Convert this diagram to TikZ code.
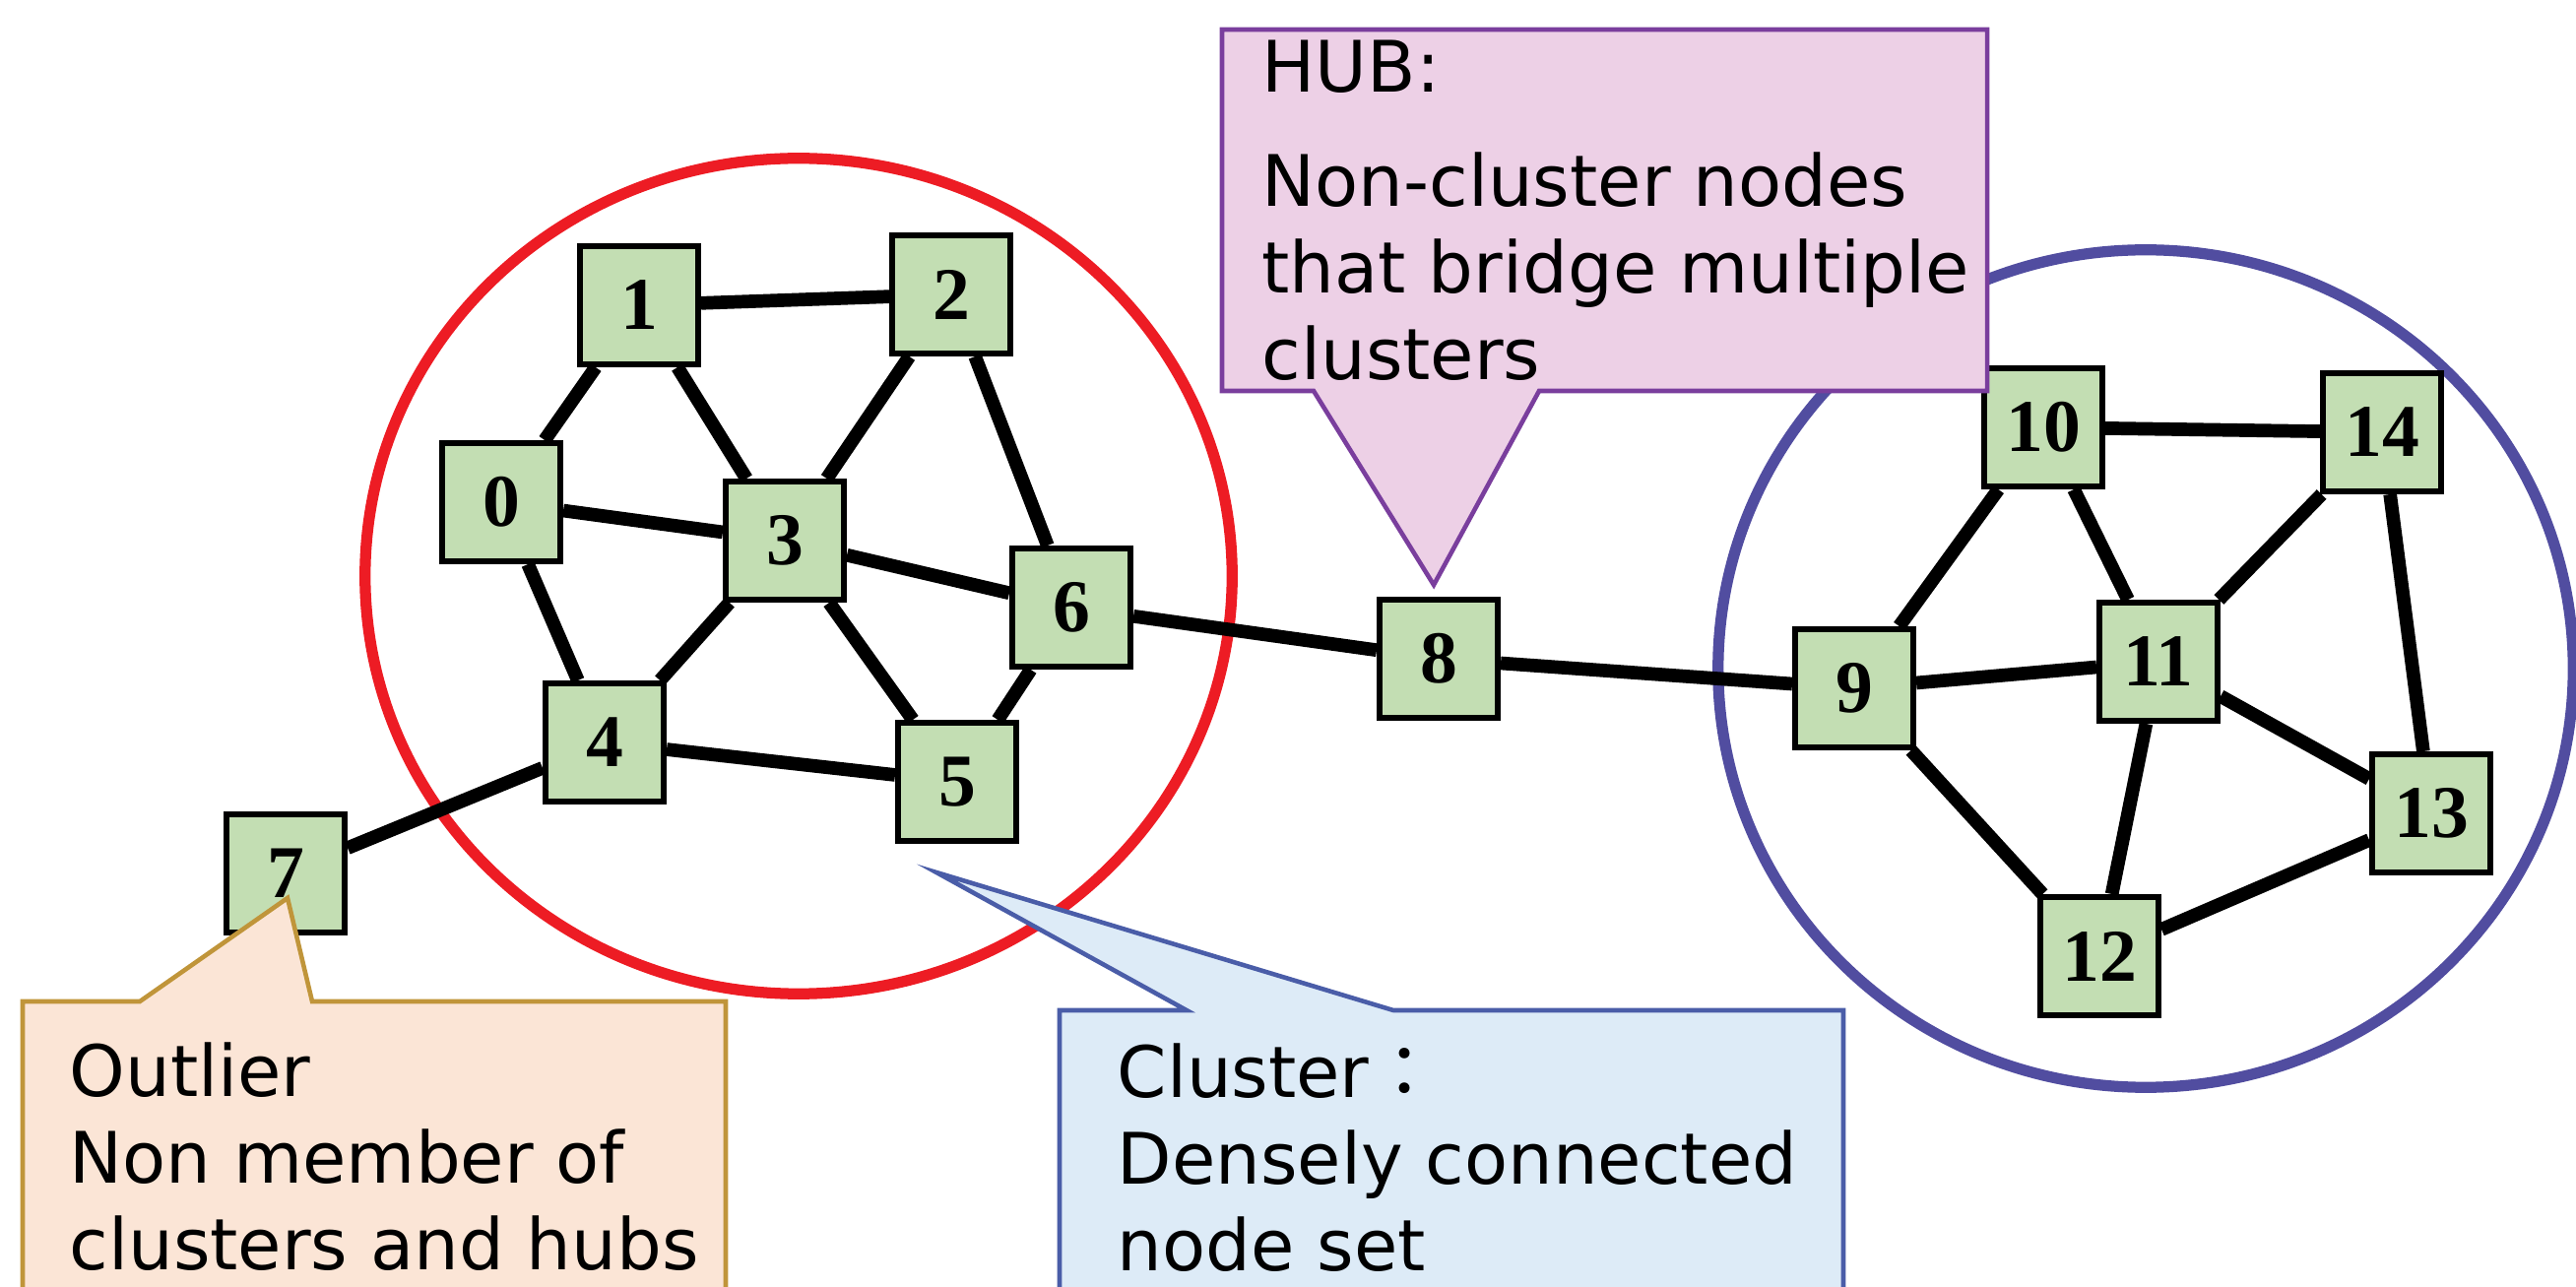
\documentclass[tikz,border=0pt]{standalone}
\usepackage{fontspec}
\setmainfont{Liberation Serif}
\newfontfamily\calloutfont{DejaVu Sans}
\newfontfamily\cjkfont{Noto Sans CJK JP}
\definecolor{nodegreen}{RGB}{195,222,179}
\definecolor{clred}{RGB}{237,28,36}
\definecolor{clblue}{RGB}{81,77,160}
\definecolor{hubfill}{RGB}{237,208,230}
\definecolor{hubdraw}{RGB}{122,62,157}
\definecolor{outfill}{RGB}{251,229,214}
\definecolor{outdraw}{RGB}{192,149,58}
\definecolor{clufill}{RGB}{221,235,247}
\definecolor{cludraw}{RGB}{74,93,168}
\tikzset{
  gnode/.style={draw=black, line width=1.7pt, fill=nodegreen, minimum width=1.2cm,
    minimum height=1.2cm, inner sep=0pt, font=\fontsize{21.5}{21.5}\selectfont\bfseries},
  edge/.style={line width=3.9pt, black},
  ring/.style={line width=3.2pt},
  callout/.style={line width=1.3pt},
  callouttext/.style={anchor=north west, align=left, inner sep=0pt,
    font=\calloutfont\fontsize{20.5}{25}\selectfont}
}
\begin{document}
\begin{tikzpicture}[x=0.01cm,y=-0.01cm]
\useasboundingbox (0,0) rectangle (2616,1307);
\clip (0,0) rectangle (2616,1307);
% cluster rings
\draw[ring, clred] (811,585) ellipse [x radius=4.4cm, y radius=4.24cm];
\draw[ring, clblue] (2179,679) ellipse [x radius=4.34cm, y radius=4.25cm];
% nodes
\node[gnode] (n0) at (509,510) {0};
\node[gnode] (n1) at (649,310) {1};
\node[gnode] (n2) at (966,299) {2};
\node[gnode] (n3) at (797,549) {3};
\node[gnode] (n4) at (614,754) {4};
\node[gnode] (n5) at (972,794) {5};
\node[gnode] (n6) at (1088,617) {6};
\node[gnode] (n7) at (290,887) {7};
\node[gnode] (n8) at (1461,669) {8};
\node[gnode] (n9) at (1883,699) {9};
\node[gnode] (n10) at (2075,434) {10};
\node[gnode] (n11) at (2192,672) {11};
\node[gnode] (n12) at (2132,971) {12};
\node[gnode] (n13) at (2469,826) {13};
\node[gnode] (n14) at (2419,439) {14};
% edges
\foreach \a/\b in {n0/n1,n1/n2,n1/n3,n0/n3,n0/n4,n2/n3,n2/n6,n3/n6,n3/n4,n3/n5,n4/n5,n5/n6,n4/n7,n6/n8,n8/n9,
  n9/n10,n9/n11,n9/n12,n10/n11,n10/n14,n11/n14,n11/n13,n11/n12,n12/n13,n14/n13}
  \draw[edge] (\a) -- (\b);
% callouts
\coordinate (hubtip) at (1456,594);
\coordinate (outtip) at (292,912);
\coordinate (clutip) at (951,886);
\draw[callout, draw=hubdraw, fill=hubfill] (1241,30) -- (2018,30) -- (2018,397) -- (1563,397)
  -- (hubtip) -- (1334,397) -- (1241,397) -- cycle;
\draw[callout, draw=outdraw, fill=outfill] (23,1017) -- (142,1017) -- (outtip) -- (317,1017)
  -- (737,1017) -- (737,1400) -- (23,1400) -- cycle;
\draw[callout, draw=cludraw, fill=clufill] (1076,1026) -- (1205,1026) -- (clutip) -- (1415,1026)
  -- (1872,1026) -- (1872,1400) -- (1076,1400) -- cycle;
\node[callouttext] (hubtext) at (1281,40) {HUB:\\[8pt]Non-cluster nodes\\that bridge multiple\\clusters};
\node[callouttext] (outtext) at (70,1058) {Outlier\\Non member of\\clusters and hubs};
\node[callouttext] (clutext) at (1134,1059) {Cluster{\cjkfont ：}\\Densely connected\\node set};
\end{tikzpicture}
\end{document}
